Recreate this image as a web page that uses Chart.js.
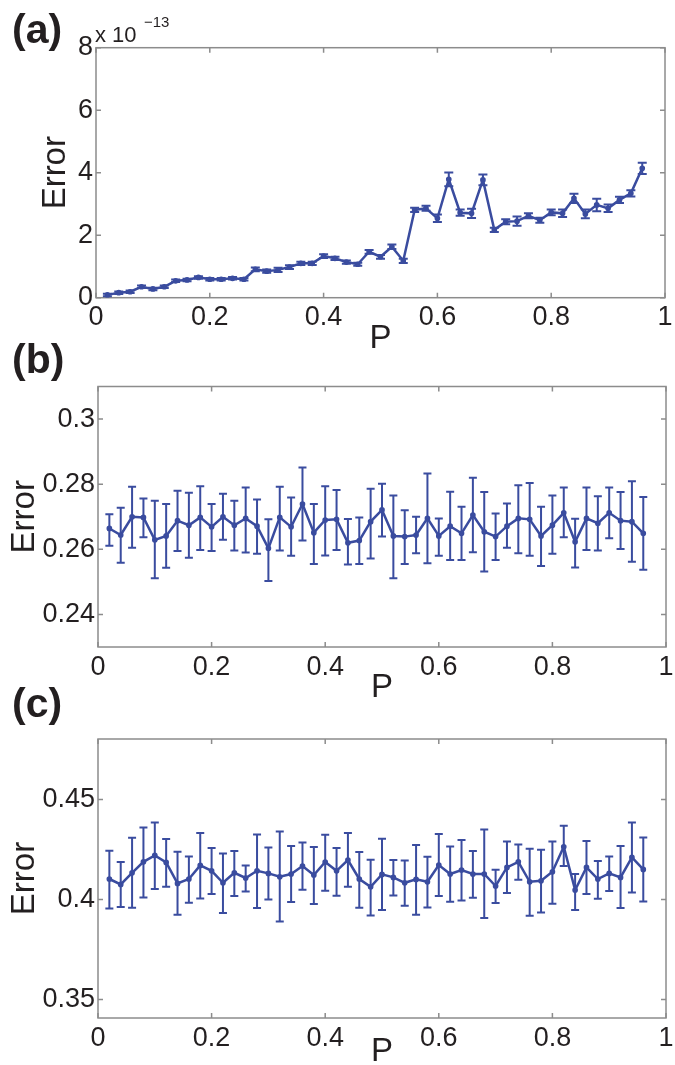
<!DOCTYPE html>
<html>
<head>
<meta charset="utf-8">
<script src="https://cdn.jsdelivr.net/npm/chart.js@4.4.0/dist/chart.umd.min.js"></script>
<style>
  html, body { margin: 0; padding: 0; background: #fff; }
  body { width: 675px; height: 1065px; position: relative; overflow: hidden;
         font-family: "Liberation Sans", Arial, sans-serif; color: #231f20; }
  canvas { position: absolute; left: 0; }
  .tag { position: absolute; left: 12px; font-weight: bold; font-size: 41px; line-height: 1; z-index: 2; }
  .expo { position: absolute; line-height: 1; z-index: 2; }
</style>
</head>
<body>
<canvas id="chartA" width="675" height="355" style="top:0px"></canvas>
<canvas id="chartB" width="675" height="355" style="top:350px"></canvas>
<canvas id="chartC" width="675" height="365" style="top:700px"></canvas>

<div class="tag" style="top:9px">(a)</div>
<div class="tag" style="top:339px">(b)</div>
<div class="tag" style="top:683px">(c)</div>
<div class="expo" style="left:95px; top:24px; font-size:22px;">x 10</div>
<div class="expo" style="left:144px; top:14px; font-size:15px;">−13</div>

<script>
// x positions (P)
const P = [0.02, 0.04, 0.06, 0.08, 0.10, 0.12, 0.14, 0.16, 0.18, 0.20,
           0.22, 0.24, 0.26, 0.28, 0.30, 0.32, 0.34, 0.36, 0.38, 0.40,
           0.42, 0.44, 0.46, 0.48, 0.50, 0.52, 0.54, 0.56, 0.58, 0.60,
           0.62, 0.64, 0.66, 0.68, 0.70, 0.72, 0.74, 0.76, 0.78, 0.80,
           0.82, 0.84, 0.86, 0.88, 0.90, 0.92, 0.94, 0.96];
const X_TICKS = [0, 0.2, 0.4, 0.6, 0.8, 1];

// panel (a): error, in units of 1e-13
const errA = [0.09, 0.16, 0.19, 0.35, 0.28, 0.35, 0.54, 0.57, 0.65, 0.59,
              0.59, 0.62, 0.59, 0.91, 0.85, 0.89, 0.98, 1.10, 1.10, 1.33,
              1.26, 1.14, 1.07, 1.47, 1.31, 1.63, 1.18, 2.81, 2.86, 2.54,
              3.79, 2.72, 2.70, 3.77, 2.17, 2.43, 2.45, 2.62, 2.48, 2.73,
              2.70, 3.18, 2.68, 2.97, 2.86, 3.13, 3.34, 4.14];
const barA = [0.04, 0.04, 0.04, 0.04, 0.04, 0.04, 0.04, 0.04, 0.04, 0.04,
              0.04, 0.04, 0.04, 0.06, 0.05, 0.07, 0.06, 0.05, 0.05, 0.06,
              0.05, 0.05, 0.05, 0.06, 0.06, 0.07, 0.07, 0.07, 0.08, 0.12,
              0.22, 0.10, 0.15, 0.17, 0.07, 0.08, 0.15, 0.08, 0.08, 0.09,
              0.12, 0.15, 0.14, 0.20, 0.12, 0.10, 0.10, 0.18];
const yTicksA = [0, 2, 4, 6, 8];

// panel (b)
const errB = [0.2664, 0.2644, 0.2700, 0.2698, 0.2629, 0.2641, 0.2688, 0.2674, 0.2698, 0.2669,
              0.2700, 0.2674, 0.2695, 0.2671, 0.2603, 0.2698, 0.2669, 0.2739, 0.2651, 0.2690,
              0.2692, 0.2620, 0.2627, 0.2685, 0.2721, 0.2641, 0.2639, 0.2644, 0.2695, 0.2641,
              0.2671, 0.2649, 0.2705, 0.2654, 0.2639, 0.2671, 0.2695, 0.2692, 0.2641, 0.2674,
              0.2712, 0.2623, 0.2695, 0.2680, 0.2712, 0.2688, 0.2685, 0.2649];
const hiB  = [0.2708, 0.2728, 0.2792, 0.2756, 0.2749, 0.2739, 0.2780, 0.2774, 0.2794, 0.2739,
              0.2771, 0.2749, 0.2790, 0.2753, 0.2692, 0.2792, 0.2759, 0.2851, 0.2739, 0.2794,
              0.2782, 0.2693, 0.2698, 0.2786, 0.2801, 0.2765, 0.2720, 0.2700, 0.2833, 0.2695,
              0.2777, 0.2731, 0.2820, 0.2776, 0.2710, 0.2741, 0.2797, 0.2804, 0.2731, 0.2765,
              0.2790, 0.2694, 0.2790, 0.2763, 0.2790, 0.2776, 0.2809, 0.2761];
const loB  = [0.2611, 0.2559, 0.2605, 0.2637, 0.2511, 0.2543, 0.2595, 0.2574, 0.2598, 0.2595,
              0.2629, 0.2596, 0.2590, 0.2586, 0.2503, 0.2596, 0.2580, 0.2627, 0.2555, 0.2581,
              0.2598, 0.2553, 0.2555, 0.2572, 0.2639, 0.2511, 0.2555, 0.2588, 0.2557, 0.2580,
              0.2567, 0.2567, 0.2591, 0.2532, 0.2567, 0.2605, 0.2588, 0.2580, 0.2549, 0.2586,
              0.2637, 0.2544, 0.2598, 0.2596, 0.2634, 0.2601, 0.2562, 0.2537];
const yTicksB = [0.24, 0.26, 0.28, 0.3];

// panel (c)
const errC = [0.4102, 0.4075, 0.4133, 0.4188, 0.4220, 0.4185, 0.4080, 0.4102, 0.4170, 0.4143,
              0.4083, 0.4133, 0.4107, 0.4143, 0.4130, 0.4113, 0.4127, 0.4167, 0.4122, 0.4187,
              0.4143, 0.4197, 0.4102, 0.4063, 0.4125, 0.4110, 0.4083, 0.4100, 0.4088, 0.4172,
              0.4127, 0.4147, 0.4127, 0.4127, 0.4067, 0.4160, 0.4188, 0.4088, 0.4093, 0.4138,
              0.4263, 0.4047, 0.4160, 0.4102, 0.4130, 0.4110, 0.4210, 0.4150];
const hiC  = [0.4243, 0.4187, 0.4308, 0.4360, 0.4385, 0.4302, 0.4238, 0.4215, 0.4332, 0.4257,
              0.4230, 0.4242, 0.4170, 0.4325, 0.4260, 0.4340, 0.4267, 0.4285, 0.4262, 0.4323,
              0.4257, 0.4332, 0.4237, 0.4198, 0.4303, 0.4197, 0.4195, 0.4272, 0.4213, 0.4327,
              0.4265, 0.4297, 0.4242, 0.4350, 0.4148, 0.4290, 0.4275, 0.4253, 0.4248, 0.4290,
              0.4368, 0.4127, 0.4292, 0.4192, 0.4215, 0.4267, 0.4385, 0.4310];
const loC  = [0.3955, 0.3962, 0.3958, 0.4010, 0.4052, 0.4063, 0.3923, 0.3983, 0.4005, 0.4027,
              0.3932, 0.4017, 0.4040, 0.3957, 0.4000, 0.3890, 0.3987, 0.4048, 0.3977, 0.4043,
              0.4018, 0.4063, 0.3958, 0.3920, 0.3947, 0.4020, 0.3968, 0.3923, 0.3960, 0.4017,
              0.3988, 0.3995, 0.4008, 0.3907, 0.3982, 0.4032, 0.4098, 0.3918, 0.3935, 0.3978,
              0.4167, 0.3947, 0.4027, 0.4003, 0.4042, 0.3957, 0.4035, 0.3990];
const yTicksC = [0.35, 0.4, 0.45];

const BLUE = '#3a4c9f';
const GRAY = '#8c8c8c';
const INK = '#231f20';
const FONT = '"Liberation Sans", Arial, sans-serif';

// error bars drawn from each point's lo/hi through the chart's scales
const errorBars = {
    id: 'errorBars',
    afterDatasetsDraw(chart, args, opts) {
        const {ctx, scales: {x, y}} = chart;
        const cap = opts.cap || 4;
        ctx.save();
        ctx.strokeStyle = BLUE;
        ctx.lineWidth = 2;
        chart.data.datasets[0].data.forEach(pt => {
            const px = x.getPixelForValue(pt.x);
            const top = y.getPixelForValue(pt.hi);
            const bot = y.getPixelForValue(pt.lo);
            ctx.beginPath();
            ctx.moveTo(px, top); ctx.lineTo(px, bot);
            ctx.moveTo(px - cap, top); ctx.lineTo(px + cap, top);
            ctx.moveTo(px - cap, bot); ctx.lineTo(px + cap, bot);
            ctx.stroke();
        });
        ctx.restore();
    }
};

// matlab-like box with inward ticks on all four sides
const frameTicks = {
    id: 'frameTicks',
    beforeDatasetsDraw(chart) {
        const {ctx, chartArea: a, scales: {x, y}} = chart;
        ctx.save();
        ctx.strokeStyle = GRAY;
        ctx.lineWidth = 1.5;
        ctx.strokeRect(a.left, a.top, a.width, a.height);
        ctx.beginPath();
        x.ticks.forEach(t => {
            const px = x.getPixelForValue(t.value);
            ctx.moveTo(px, a.bottom); ctx.lineTo(px, a.bottom - 5);
            ctx.moveTo(px, a.top); ctx.lineTo(px, a.top + 5);
        });
        y.ticks.forEach(t => {
            const py = y.getPixelForValue(t.value);
            ctx.moveTo(a.left, py); ctx.lineTo(a.left + 5, py);
            ctx.moveTo(a.right, py); ctx.lineTo(a.right - 5, py);
        });
        ctx.stroke();
        ctx.restore();
    }
};

function buildPanel(id, cfg) {
    const canvas = document.getElementById(id);
    const H = canvas.height;
    const points = P.map((p, i) => ({x: p, y: cfg.mean[i], lo: cfg.lo[i], hi: cfg.hi[i]}));

    new Chart(canvas, {
        type: 'line',
        data: {
            datasets: [{
                data: points,
                borderColor: BLUE,
                backgroundColor: BLUE,
                borderWidth: 2.5,
                pointRadius: 1.6,
                pointHoverRadius: 1.6,
                tension: 0
            }]
        },
        options: {
            responsive: false,
            animation: false,
            devicePixelRatio: 1,
            events: [],
            layout: { padding: { top: cfg.top, right: 675 - cfg.right, left: 0, bottom: 0 } },
            plugins: {
                legend: { display: false },
                tooltip: { enabled: false },
                errorBars: { cap: cfg.cap }
            },
            scales: {
                x: {
                    type: 'linear',
                    min: 0,
                    max: 1,
                    grid: { display: false, drawTicks: false },
                    border: { display: false },
                    afterBuildTicks: s => { s.ticks = X_TICKS.map(v => ({value: v})); },
                    ticks: {
                        autoSkip: false, maxRotation: 0, padding: 4, color: INK,
                        font: { family: FONT, size: 27 },
                        callback: v => String(v)
                    },
                    title: {
                        display: true, text: 'P', color: INK,
                        font: { family: FONT, size: 33, lineHeight: 0.8 },
                        padding: { top: 0, bottom: cfg.pTitle }
                    },
                    afterFit: s => { s.height = H - cfg.bottom; s.paddingLeft = 0; s.paddingRight = 0; }
                },
                y: {
                    min: cfg.ymin,
                    max: cfg.ymax,
                    grid: { display: false, drawTicks: false },
                    border: { display: false },
                    afterBuildTicks: s => { s.ticks = cfg.yTicks.map(v => ({value: v})); },
                    ticks: {
                        padding: 3, color: INK,
                        font: { family: FONT, size: 27 },
                        callback: v => String(v)
                    },
                    title: {
                        display: true, text: 'Error', color: INK,
                        font: { family: FONT, size: 33, lineHeight: 0.8 },
                        padding: { top: cfg.eTitle, bottom: 0 }
                    },
                    afterFit: s => { s.width = cfg.left; s.paddingTop = 0; s.paddingBottom = 0; }
                }
            }
        },
        plugins: [frameTicks, errorBars]
    });
}

buildPanel('chartA', {
    mean: errA,
    lo: errA.map((v, i) => v - barA[i]),
    hi: errA.map((v, i) => v + barA[i]),
    yTicks: yTicksA, ymin: 0, ymax: 8,
    left: 96, right: 665, top: 47.7, bottom: 297.7,
    eTitle: 42.8, pTitle: 3, cap: 4.5
});

buildPanel('chartB', {
    mean: errB, lo: loB, hi: hiB,
    yTicks: yTicksB, ymin: 0.23, ymax: 0.31,
    left: 98, right: 666, top: 36.5, bottom: 297,
    eTitle: 12, pTitle: 4, cap: 4
});

buildPanel('chartC', {
    mean: errC, lo: loC, hi: hiC,
    yTicks: yTicksC, ymin: 0.3407, ymax: 0.4802,
    left: 98, right: 666, top: 39, bottom: 318,
    eTitle: 12, pTitle: 0, cap: 4
});
</script>
</body>
</html>
